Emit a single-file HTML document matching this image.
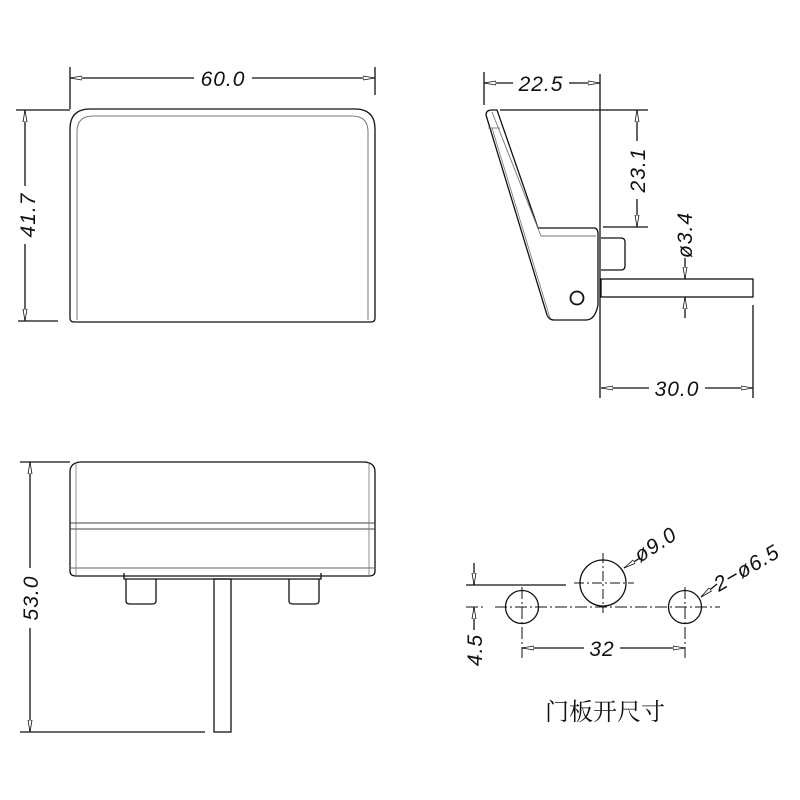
<!DOCTYPE html>
<html><head><meta charset="utf-8"><style>
html,body{margin:0;padding:0;background:#fff}
svg{display:block}
text{font-family:"Liberation Sans","Noto Sans CJK SC",sans-serif;font-style:italic;fill:#111}
</style></head><body>
<svg width="800" height="800" viewBox="0 0 800 800" xmlns="http://www.w3.org/2000/svg">
<defs>
<marker id="a" viewBox="0 0 12 6" refX="12" refY="3" markerWidth="12" markerHeight="6" markerUnits="userSpaceOnUse" orient="auto-start-reverse"><path d="M0,1 L12,3 L0,5 Z" fill="#fff" stroke="#111" stroke-width="0.8"/></marker>
</defs>
<g fill="none" stroke="#111" stroke-width="1.3">
<!-- Front view -->
<path d="M70,318 L70,129 Q70,109 90,109 L355,109 Q375,109 375,129 L375,318 Q375,322 371,322 L74,322 Q70,322 70,318 Z"/>
<path d="M77,320 L77,132 Q77,116 93,116 L352,116 Q368,116 368,132 L368,320" stroke="#777" stroke-width="1"/>
<line x1="70" y1="67" x2="70" y2="109"/><line x1="375" y1="67" x2="375" y2="95"/>
<line x1="70" y1="78" x2="375" y2="78" marker-start="url(#a)" marker-end="url(#a)"/>
<line x1="16" y1="110" x2="70" y2="110"/><line x1="18" y1="321" x2="58" y2="321"/>
<line x1="25" y1="110" x2="25" y2="321" marker-start="url(#a)" marker-end="url(#a)"/>
<!-- Side view -->
<path d="M486,115 Q486,110 492,110 L497,110 L538,228 L594,228 Q598,228 598,234 L598,305 Q595,320 586,320 L554,320 Q549,320 547,315 Z"/>
<path d="M492,112 L541,236 L596,236" stroke="#777" stroke-width="0.9"/>
<path d="M488,128 L500,128" stroke="#777" stroke-width="0.9"/>
<path d="M492,128 L550,318" stroke="#777" stroke-width="0.8"/>
<circle cx="577" cy="298" r="6.5" stroke-width="1.8"/>
<path d="M601,238 L621,238 Q625,238 625,242 L625,266 Q625,270 621,270 L601,270"/>
<rect x="601" y="279" width="152" height="18"/>
<line x1="600" y1="74" x2="600" y2="398"/><line x1="484" y1="72" x2="484" y2="105"/>
<line x1="484" y1="83" x2="600" y2="83" marker-start="url(#a)" marker-end="url(#a)"/>
<line x1="500" y1="110" x2="648" y2="110"/><line x1="603" y1="227" x2="648" y2="227"/>
<line x1="637" y1="110" x2="637" y2="227" marker-start="url(#a)" marker-end="url(#a)"/>
<line x1="685" y1="258" x2="685" y2="279" marker-end="url(#a)"/>
<line x1="685" y1="318" x2="685" y2="297" marker-end="url(#a)"/>
<line x1="753" y1="305" x2="753" y2="398"/>
<line x1="601" y1="388" x2="753" y2="388" marker-start="url(#a)" marker-end="url(#a)"/>
<!-- Bottom view -->
<path d="M70,571 L70,472 Q70,462 82,462 L363,462 Q375,462 375,472 L375,571 Q375,576 369,576 L76,576 Q70,576 70,571 Z"/>
<path d="M70,523 L375,523 M70,529 L375,529" stroke="#444" stroke-width="1"/>
<path d="M70,568 L375,568" stroke="#666" stroke-width="1"/>
<path d="M76,462 L76,576 M369,462 L369,576" stroke="#777" stroke-width="0.8"/>
<path d="M124,573 L124,579 L321,579 L321,573"/>
<path d="M126,579 L126,601 Q126,604 130,604 L152,604 Q156,604 156,601 L156,579"/>
<path d="M289,579 L289,601 Q289,604 293,604 L315,604 Q319,604 319,601 L319,579"/>
<rect x="214" y="579" width="17" height="153"/>
<line x1="20" y1="462" x2="70" y2="462"/><line x1="20" y1="732" x2="205" y2="732"/>
<line x1="30" y1="462" x2="30" y2="732" marker-start="url(#a)" marker-end="url(#a)"/>
<!-- Hole pattern -->
<circle cx="603" cy="583" r="23"/>
<circle cx="522" cy="607" r="16.5"/>
<circle cx="685" cy="607" r="16.5"/>
<line x1="466" y1="585" x2="566" y2="585"/>
<path d="M466,607 L486,607 M495,607 L720,607" stroke-dasharray="12,3,2,3" stroke-width="1"/>
<path d="M574,583 L634,583 M603,553 L603,613" stroke-dasharray="10,3,2,3" stroke-width="1"/>
<path d="M522,587 L522,658 M685,587 L685,658" stroke-dasharray="12,3,2,3" stroke-width="1"/>
<line x1="522" y1="648" x2="685" y2="648" marker-start="url(#a)" marker-end="url(#a)"/>
<line x1="474" y1="563" x2="474" y2="585" marker-end="url(#a)"/>
<line x1="474" y1="630" x2="474" y2="607" marker-end="url(#a)"/>
<line x1="640" y1="558" x2="624" y2="568" marker-end="url(#a)"/>
<line x1="717" y1="584" x2="701" y2="597" marker-end="url(#a)"/>
</g>
<g font-size="21" letter-spacing="1">
<rect x="194" y="67" width="58" height="22" fill="#fff"/>
<text x="223" y="86" text-anchor="middle">60.0</text>
<rect x="14" y="186" width="24" height="58" fill="#fff"/>
<text transform="translate(35,215) rotate(-90)" text-anchor="middle">41.7</text>
<rect x="513" y="73" width="56" height="20" fill="#fff"/>
<text x="541" y="91" text-anchor="middle">22.5</text>
<rect x="626" y="141" width="24" height="58" fill="#fff"/>
<text transform="translate(645,170) rotate(-90)" text-anchor="middle">23.1</text>
<text transform="translate(692,235) rotate(-90)" text-anchor="middle">ø3.4</text>
<rect x="649" y="378" width="56" height="20" fill="#fff"/>
<text x="677" y="396" text-anchor="middle">30.0</text>
<rect x="19" y="568" width="24" height="60" fill="#fff"/>
<text transform="translate(38,598) rotate(-90)" text-anchor="middle">53.0</text>
<text transform="translate(482,650) rotate(-90)" text-anchor="middle">4.5</text>
<rect x="584" y="638" width="36" height="20" fill="#fff"/>
<text x="602" y="656" text-anchor="middle">32</text>
<text transform="translate(640,563) rotate(-33)">ø9.0</text>
<text transform="translate(719,592) rotate(-30)">2−ø6.5</text>
</g>
<text x="605" y="720" text-anchor="middle" font-size="24" style="font-style:normal;font-family:'Noto Serif CJK SC','Noto Sans CJK SC',serif">门板开尺寸</text>
</svg>
</body></html>
